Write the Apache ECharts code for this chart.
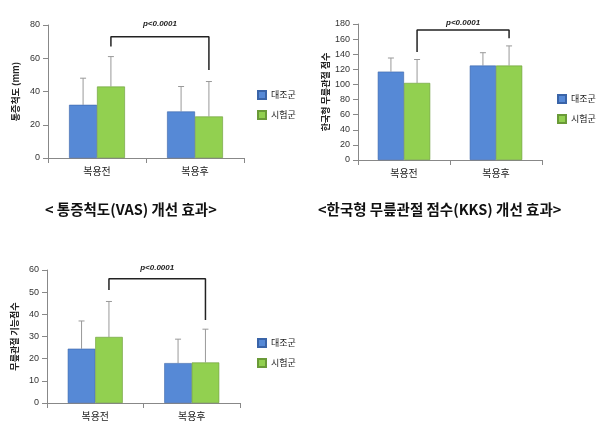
<!DOCTYPE html><html><head><meta charset="utf-8"><script src="https://cdn.jsdelivr.net/npm/echarts@6/dist/echarts.min.js"></script></head><body style="margin:0;background:#fff"><div id="c" style="width:600px;height:432px"></div><script>
const categories=['복용전','복용후'];
const seriesNames=['대조군','시험군'];
const vasCtrl=[32,28], vasTest=[43,25], vasCtrlErr=[48,43], vasTestErr=[61,46];
const kksCtrl=[117,125], kksTest=[102,125], kksCtrlErr=[135,142], kksTestErr=[133,151];
const funCtrl=[24.5,18], funTest=[29.8,18.3], funCtrlErr=[37,28.8], funTestErr=[45.8,33.3];
const charts=[
 {name:'통증척도 (mm)',max:80,interval:20,c:vasCtrl,t:vasTest,ce:vasCtrlErr,te:vasTestErr,br:[67,73,53],p:81,title:'< 통증척도(VAS) 개선 효과>'},
 {name:'한국형 무릎관절 점수',max:180,interval:20,c:kksCtrl,t:kksTest,ce:kksCtrlErr,te:kksTestErr,br:[143,172,161],p:182,title:'<한국형 무릎관절 점수(KKS) 개선 효과>'},
 {name:'무릎관절 기능점수',max:60,interval:10,c:funCtrl,t:funTest,ce:funCtrlErr,te:funTestErr,br:[51,56,37.5],p:61,title:''}
];
const grids=[{left:48,top:25,width:196,height:133},{left:358,top:24,width:184,height:136},{left:47,top:270,width:193,height:133}];
const legendPos=[[252,85],[552,89],[252,333]];
const titlePos=[[45,202],[318,202]];
const font='"Noto Sans CJK KR", sans-serif';
const off=0.142;
let opt={animation:false,grid:grids,xAxis:[],yAxis:[],series:[],legend:[],graphic:[]};
charts.forEach((ch,i)=>{
 opt.xAxis.push({type:'category',gridIndex:i,data:categories,axisLine:{lineStyle:{color:'#888'}},axisTick:{show:true,lineStyle:{color:'#888'}},axisLabel:{fontSize:10,color:'#222',fontFamily:font,margin:8}});
 opt.xAxis.push({type:'value',gridIndex:i,min:0,max:2,show:false});
 opt.yAxis.push({type:'value',gridIndex:i,min:0,max:ch.max,interval:ch.interval,name:ch.name,nameLocation:'middle',nameRotate:90,nameGap:28,nameTextStyle:{fontSize:9,fontWeight:'bold',color:'#222',fontFamily:font},axisLine:{show:true,lineStyle:{color:'#888'}},axisTick:{show:true,lineStyle:{color:'#888'}},splitLine:{show:false},axisLabel:{fontSize:9,color:'#333'}});
 const bi=opt.xAxis.length-2, vi=opt.xAxis.length-1;
 opt.series.push({type:'bar',name:seriesNames[0],xAxisIndex:bi,yAxisIndex:i,data:ch.c,barGap:'0%',barCategoryGap:'43%',itemStyle:{color:'#5689d6',borderColor:'#3a64a8',borderWidth:0.6}});
 opt.series.push({type:'bar',name:seriesNames[1],xAxisIndex:bi,yAxisIndex:i,data:ch.t,barGap:'0%',barCategoryGap:'43%',itemStyle:{color:'#92d050',borderColor:'#6a9a38',borderWidth:0.6}});
 const err=[];
 [0,1].forEach(k=>{err.push([k+0.5-off,ch.c[k],ch.ce[k]]);err.push([k+0.5+off,ch.t[k],ch.te[k]]);});
 opt.series.push({type:'custom',xAxisIndex:vi,yAxisIndex:i,data:err,silent:true,renderItem:(p,api)=>{const a=api.coord([api.value(0),api.value(1)]),b=api.coord([api.value(0),api.value(2)]);return {type:'group',children:[{type:'line',shape:{x1:a[0],y1:a[1],x2:b[0],y2:b[1]},style:{stroke:'#999',lineWidth:1}},{type:'line',shape:{x1:b[0]-3,y1:b[1],x2:b[0]+3,y2:b[1]},style:{stroke:'#999',lineWidth:1}}]};}});
 opt.series.push({type:'line',xAxisIndex:vi,yAxisIndex:i,data:[[0.5+off,ch.br[0]],[0.5+off,ch.br[1]],[1.5+off,ch.br[1]],[1.5+off,ch.br[2]]],symbol:'none',lineStyle:{color:'#222',width:1.5},silent:true});
 opt.series.push({type:'custom',xAxisIndex:vi,yAxisIndex:i,data:[[1+off,ch.p]],silent:true,renderItem:(p,api)=>{const a=api.coord([api.value(0),api.value(1)]);return {type:'text',x:a[0],y:a[1],style:{text:'p<0.0001',fontSize:8,fontStyle:'italic',fontWeight:'bold',fill:'#222',align:'center',verticalAlign:'middle'}};}});
 opt.legend.push({data:seriesNames.map(n=>({name:n,icon:'rect'})),left:legendPos[i][0],top:legendPos[i][1],orient:'vertical',itemWidth:8,itemHeight:8,itemGap:10,textStyle:{fontSize:9,color:'#222',fontFamily:font},selectedMode:false});
 if(ch.title) opt.graphic.push({type:'text',left:titlePos[i][0],top:titlePos[i][1],style:{text:ch.title,fontSize:14.5,fontWeight:'bold',fill:'#111',fontFamily:font}});
});
echarts.init(document.getElementById('c')).setOption(opt);
</script></body></html>
